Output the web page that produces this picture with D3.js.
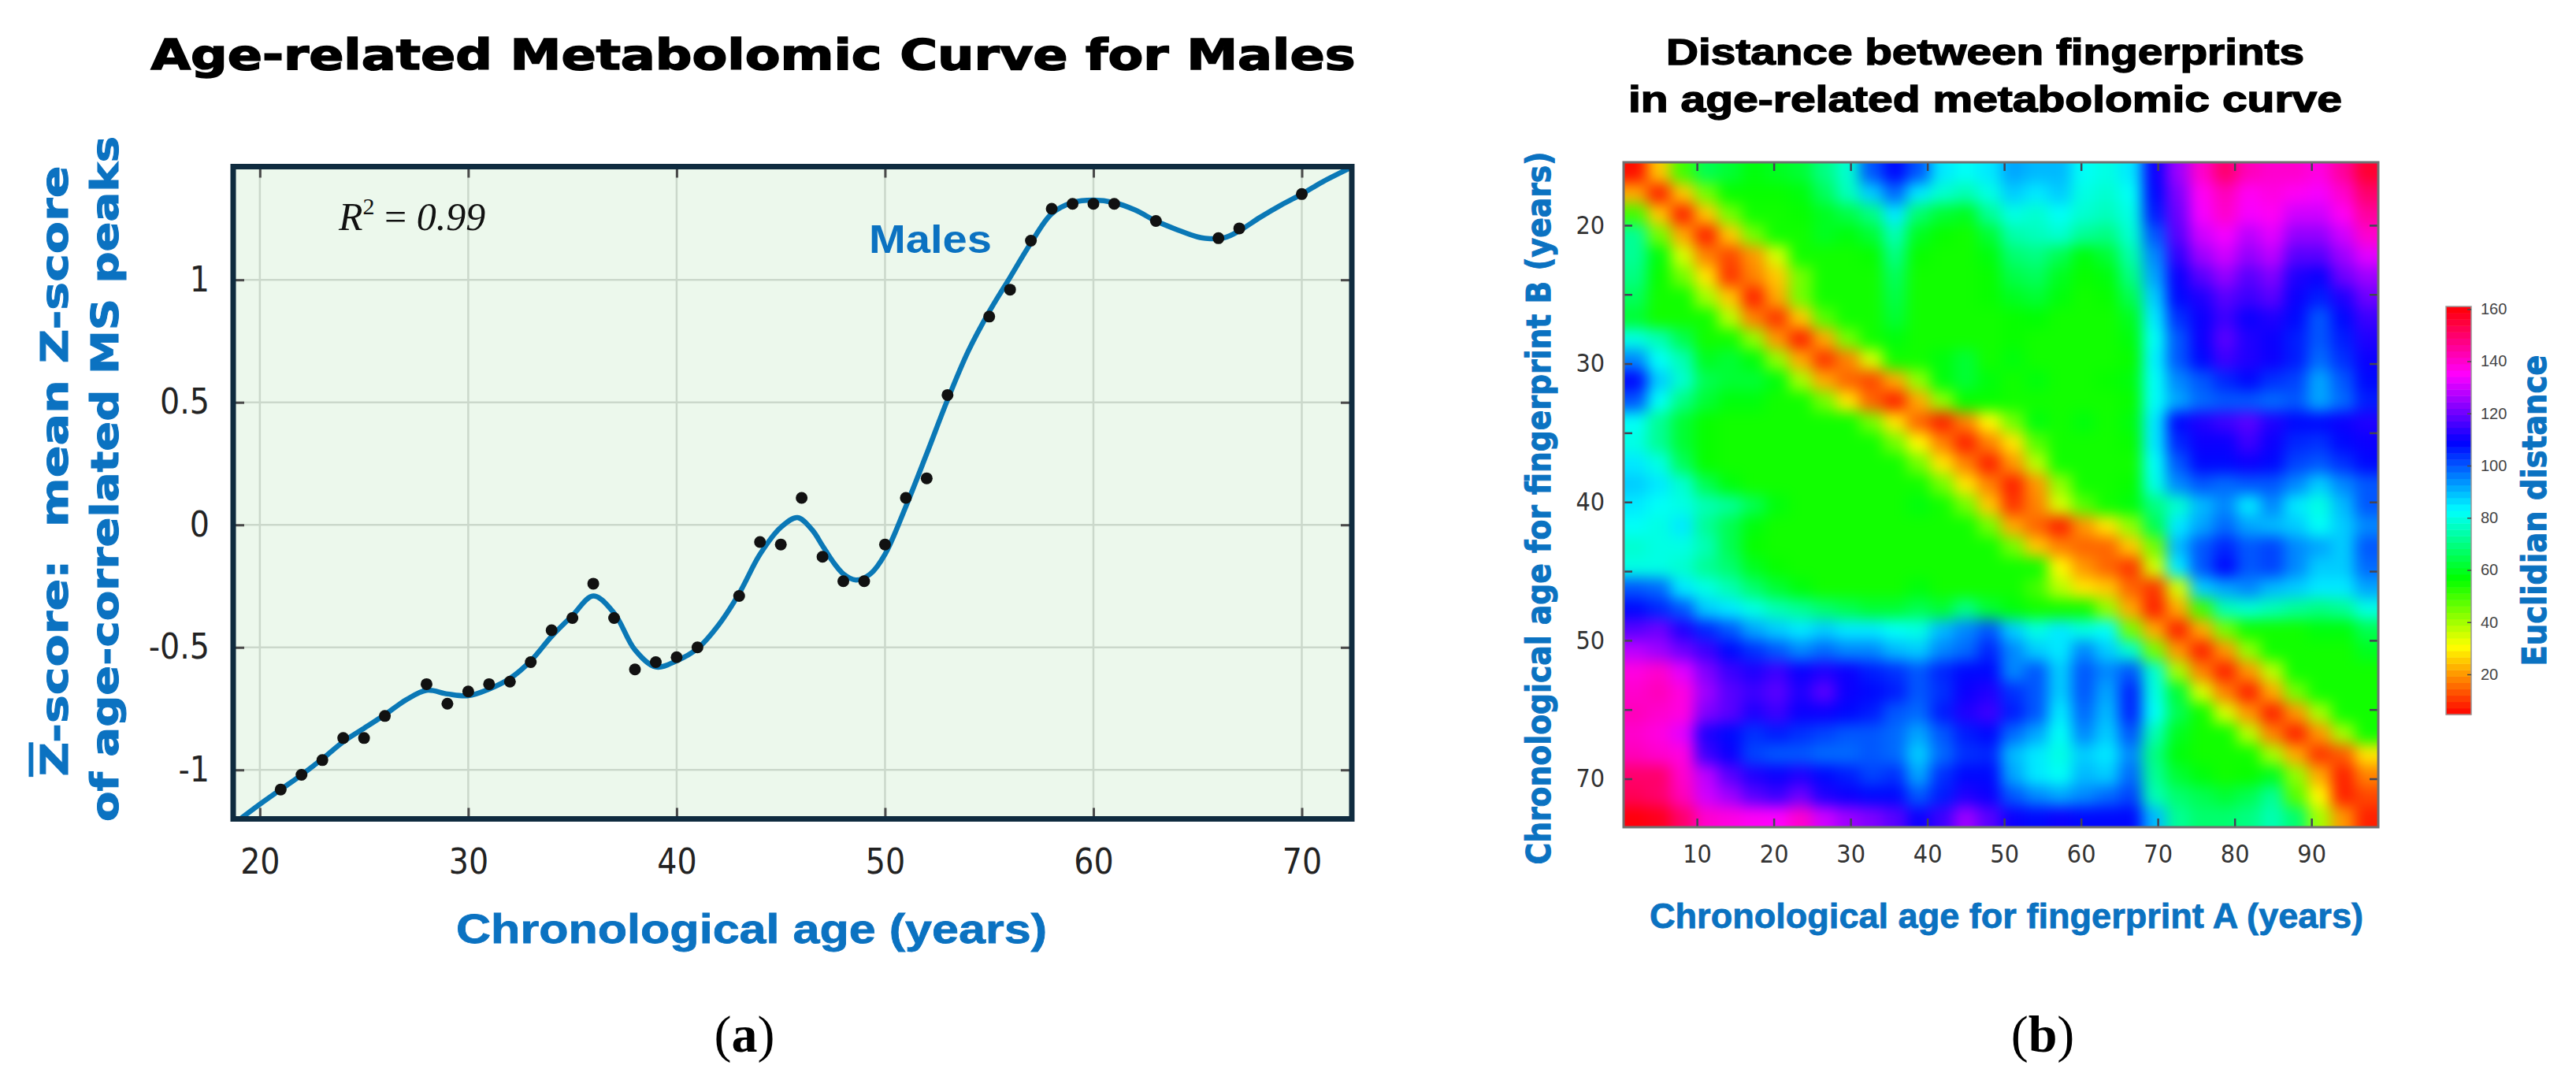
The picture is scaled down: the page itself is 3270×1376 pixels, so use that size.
<!DOCTYPE html>
<html>
<head>
<meta charset="utf-8">
<script src="https://cdn.jsdelivr.net/npm/d3@7"></script>
<style>
  body { margin: 0; background: #fff; }
</style>
</head>
<body>
<script>
const width = 3270;
const height = 1376;

const blue = "#0b72c1";
const sans = "'Liberation Sans', Arial, sans-serif";
const narrow = "'Liberation Sans Narrow', 'DejaVu Sans Condensed', 'Liberation Sans', sans-serif";
const heavy = "'DejaVu Sans', Roboto, sans-serif";
const serif = "'Liberation Serif', 'DejaVu Serif', serif";

// panel (a): measured points
const ages = [21, 22, 23, 24, 25, 26, 28, 29, 30, 31, 32, 33, 34, 35, 36, 37, 38, 39, 40, 41,
  43, 44, 45, 46, 47, 48, 49, 50, 51, 52, 53, 55, 56, 57, 58, 59, 60, 61, 63, 66, 67, 70];
const zMean = [-1.08, -1.02, -0.96, -0.87, -0.87, -0.78, -0.65, -0.73, -0.68, -0.65, -0.64, -0.56,
  -0.43, -0.38, -0.24, -0.38, -0.59, -0.56, -0.54, -0.50, -0.29, -0.07, -0.08, 0.11, -0.13, -0.23,
  -0.23, -0.08, 0.11, 0.19, 0.53, 0.85, 0.96, 1.16, 1.29, 1.31, 1.31, 1.31, 1.24, 1.17, 1.21, 1.35];

// panel (a): fitted curve
const fitAge = [19.06, 20, 21, 22, 23, 24, 25, 26, 27, 28, 29, 30, 31, 32, 33, 34, 35, 36, 37, 38,
  39, 40, 41, 42, 43, 44, 45, 45.8, 46.5, 47, 47.5, 48, 48.6, 49.3, 50, 51, 52, 53, 54, 55, 56, 57,
  58, 59, 60, 61, 62, 63, 64, 65, 65.6, 66.3, 67, 68, 69, 70, 71, 72.4];
const fitZ = [-1.2, -1.14, -1.08, -1.02, -0.955, -0.885, -0.83, -0.775, -0.715, -0.675, -0.69, -0.697,
  -0.67, -0.627, -0.555, -0.455, -0.37, -0.29, -0.36, -0.51, -0.58, -0.555, -0.505, -0.41, -0.28,
  -0.12, -0.01, 0.03, -0.02, -0.085, -0.15, -0.2, -0.225, -0.2, -0.12, 0.075, 0.29, 0.51, 0.71, 0.87,
  1.01, 1.15, 1.27, 1.315, 1.325, 1.315, 1.285, 1.24, 1.205, 1.175, 1.168, 1.172, 1.2, 1.255, 1.305,
  1.35, 1.4, 1.46];

const ageTicks = [20, 30, 40, 50, 60, 70];
const zTicks = [-1, -0.5, 0, 0.5, 1];

// panel (b): distance matrix, 32 x 32 blocks
const distance = [
  [6, 25, 50, 65, 62, 58, 60, 62, 70, 78, 100, 108, 100, 85, 82, 85, 92, 90, 90, 82, 80, 85, 110, 125, 140, 150, 142, 140, 140, 138, 145, 156],
  [22, 8, 25, 45, 56, 56, 56, 58, 66, 76, 88, 98, 85, 78, 75, 80, 88, 85, 88, 80, 78, 82, 108, 122, 136, 142, 136, 138, 136, 134, 140, 150],
  [50, 25, 8, 25, 45, 55, 55, 56, 60, 64, 70, 85, 68, 62, 60, 72, 80, 78, 82, 78, 76, 80, 106, 120, 134, 140, 134, 136, 130, 130, 136, 145],
  [72, 45, 22, 8, 25, 45, 55, 55, 60, 58, 62, 75, 60, 56, 55, 62, 74, 76, 78, 72, 70, 78, 100, 118, 130, 134, 128, 132, 124, 124, 130, 140],
  [72, 58, 35, 18, 12, 20, 35, 55, 55, 55, 56, 70, 56, 55, 55, 58, 68, 70, 65, 58, 62, 74, 95, 114, 125, 130, 124, 128, 118, 118, 125, 132],
  [70, 56, 45, 28, 10, 18, 25, 45, 55, 55, 55, 66, 55, 55, 55, 56, 64, 66, 60, 56, 58, 70, 92, 110, 118, 124, 118, 122, 112, 110, 120, 125],
  [66, 55, 55, 40, 25, 8, 22, 45, 55, 55, 55, 64, 55, 55, 55, 56, 60, 62, 58, 55, 56, 65, 88, 108, 112, 118, 115, 118, 110, 106, 112, 120],
  [62, 55, 55, 55, 38, 18, 10, 25, 48, 55, 55, 62, 55, 55, 55, 55, 56, 57, 55, 55, 55, 60, 85, 104, 110, 115, 110, 112, 108, 100, 108, 115],
  [80, 75, 65, 55, 55, 42, 20, 8, 22, 45, 55, 58, 55, 55, 55, 55, 56, 55, 55, 55, 55, 58, 82, 100, 110, 118, 112, 110, 106, 100, 106, 112],
  [95, 82, 75, 60, 62, 58, 42, 22, 10, 18, 35, 55, 55, 58, 62, 55, 58, 55, 55, 55, 55, 56, 84, 100, 108, 115, 112, 110, 106, 98, 104, 110],
  [108, 88, 78, 65, 62, 62, 58, 40, 22, 15, 12, 22, 42, 58, 62, 58, 55, 58, 55, 55, 56, 58, 82, 95, 100, 105, 108, 104, 102, 92, 100, 108],
  [100, 82, 70, 62, 58, 58, 55, 55, 45, 28, 15, 8, 22, 42, 56, 56, 55, 55, 55, 55, 55, 56, 82, 92, 98, 100, 100, 98, 100, 92, 98, 106],
  [82, 72, 62, 56, 55, 55, 55, 55, 55, 55, 45, 28, 15, 8, 18, 30, 45, 58, 55, 58, 55, 58, 85, 108, 112, 115, 118, 112, 108, 108, 110, 112],
  [80, 72, 62, 56, 55, 55, 55, 55, 55, 55, 55, 45, 30, 18, 8, 18, 28, 48, 55, 55, 55, 56, 85, 105, 110, 110, 115, 110, 105, 104, 108, 110],
  [85, 80, 66, 56, 55, 55, 55, 55, 55, 55, 55, 55, 45, 28, 18, 8, 20, 38, 55, 55, 55, 55, 82, 100, 108, 108, 110, 108, 102, 100, 104, 108],
  [88, 85, 78, 65, 58, 55, 55, 55, 55, 55, 55, 55, 55, 45, 28, 18, 8, 20, 42, 55, 55, 56, 80, 95, 100, 98, 100, 100, 95, 88, 95, 100],
  [85, 82, 80, 75, 72, 65, 58, 55, 55, 55, 55, 55, 58, 55, 45, 25, 10, 18, 35, 48, 55, 58, 70, 78, 90, 95, 85, 95, 85, 80, 90, 100],
  [82, 80, 85, 72, 65, 58, 55, 55, 55, 55, 55, 55, 55, 55, 55, 45, 22, 15, 8, 20, 28, 42, 65, 85, 92, 98, 92, 90, 88, 82, 88, 95],
  [78, 80, 80, 75, 65, 56, 55, 55, 55, 55, 55, 55, 55, 55, 55, 55, 45, 25, 18, 15, 15, 25, 45, 90, 100, 105, 100, 102, 95, 92, 88, 100],
  [80, 80, 78, 72, 68, 60, 56, 55, 55, 55, 55, 55, 55, 55, 55, 55, 55, 55, 30, 20, 15, 10, 35, 85, 100, 108, 100, 102, 95, 88, 88, 98],
  [100, 98, 85, 80, 75, 68, 62, 58, 55, 55, 55, 55, 58, 55, 55, 55, 55, 50, 38, 28, 25, 15, 10, 35, 88, 92, 95, 90, 88, 85, 85, 92],
  [108, 105, 100, 88, 85, 80, 75, 72, 68, 65, 62, 62, 65, 62, 70, 62, 58, 55, 55, 55, 42, 22, 8, 22, 50, 75, 78, 75, 72, 70, 72, 80],
  [118, 120, 112, 105, 100, 92, 88, 85, 88, 85, 85, 82, 80, 90, 95, 100, 88, 80, 85, 80, 82, 45, 22, 8, 22, 45, 55, 55, 55, 58, 58, 65],
  [128, 125, 120, 115, 108, 104, 100, 95, 98, 95, 95, 90, 88, 95, 98, 105, 95, 88, 85, 95, 88, 78, 45, 20, 8, 20, 42, 55, 55, 55, 55, 60],
  [138, 140, 132, 122, 115, 112, 115, 110, 112, 110, 106, 104, 100, 105, 108, 108, 95, 100, 88, 100, 95, 100, 78, 40, 18, 8, 20, 38, 55, 55, 55, 55],
  [140, 142, 138, 125, 118, 115, 118, 112, 118, 110, 108, 106, 100, 104, 110, 112, 104, 100, 88, 100, 92, 105, 80, 62, 35, 18, 8, 22, 45, 55, 55, 55],
  [142, 140, 138, 122, 118, 112, 115, 110, 110, 108, 106, 100, 98, 106, 112, 115, 106, 100, 85, 98, 90, 105, 82, 65, 55, 35, 20, 8, 20, 40, 55, 55],
  [140, 138, 132, 112, 108, 104, 106, 104, 102, 100, 100, 98, 92, 100, 106, 108, 98, 92, 82, 95, 88, 100, 75, 60, 55, 55, 38, 18, 8, 20, 40, 55],
  [142, 140, 138, 115, 110, 102, 100, 100, 98, 98, 100, 98, 88, 98, 104, 105, 90, 85, 80, 88, 85, 95, 70, 58, 55, 55, 55, 40, 22, 10, 14, 28],
  [150, 150, 140, 128, 118, 112, 110, 112, 108, 106, 102, 104, 92, 104, 108, 108, 92, 85, 82, 90, 88, 98, 72, 62, 58, 55, 56, 60, 42, 22, 8, 18],
  [152, 150, 142, 130, 125, 118, 115, 120, 112, 110, 108, 108, 100, 106, 112, 110, 100, 95, 92, 95, 98, 102, 75, 68, 65, 62, 65, 72, 48, 30, 8, 12],
  [160, 158, 150, 140, 138, 136, 135, 140, 130, 125, 122, 118, 110, 115, 125, 118, 110, 108, 110, 108, 108, 108, 90, 72, 68, 68, 70, 75, 68, 40, 20, 8]
];

const idxTicks = [10, 20, 30, 40, 50, 60, 70, 80, 90];
const idxTickLabelsB = ["20", "", "30", "", "40", "", "50", "", "70"];
const cbTicks = [20, 40, 60, 80, 100, 120, 140, 160];
const cbDomain = [4.6, 161];


const svg = d3.select("body")
    .append("svg")
    .attr("width", width)
    .attr("height", height)
    .attr("font-family", sans);

const defs = svg.append("defs");

//==================== panel (a) ====================
const x = d3.scaleLinear()
    .domain([18.72, 72.4])
    .range([296, 1716]);

const y = d3.scaleLinear()
    .domain([-1.2, 1.462])
    .range([1039.5, 211.5]);

const [ax0, ax1] = x.range();
const [ay0, ay1] = [y.range()[1], y.range()[0]];

defs.append("clipPath").attr("id", "clipA")
  .append("rect")
    .attr("x", ax0).attr("y", ay0)
    .attr("width", ax1 - ax0).attr("height", ay1 - ay0);

const a = svg.append("g");

//plot background
a.append("rect")
    .attr("x", ax0).attr("y", ay0)
    .attr("width", ax1 - ax0).attr("height", ay1 - ay0)
    .attr("fill", "#ecf8ec");

//grid
a.selectAll(".vgrid").data(ageTicks).join("line")
    .attr("x1", d => x(d)).attr("x2", d => x(d))
    .attr("y1", ay0).attr("y2", ay1)
    .attr("stroke", "#cbd8cb").attr("stroke-width", 2.5);

a.selectAll(".hgrid").data(zTicks).join("line")
    .attr("x1", ax0).attr("x2", ax1)
    .attr("y1", d => y(d)).attr("y2", d => y(d))
    .attr("stroke", "#cbd8cb").attr("stroke-width", 2.5);

function styleAxis(g, size, font, color) {
  g.select(".domain").remove();
  g.selectAll(".tick line").attr("stroke", "#4a4a4a").attr("stroke-width", 3);
  g.selectAll(".tick text")
      .attr("font-size", size)
      .attr("font-family", font)
      .attr("fill", color);
}

a.append("g")
    .attr("transform", `translate(0,${ay1})`)
    .call(d3.axisBottom(x).tickValues(ageTicks).tickSize(-14).tickPadding(38))
    .call(g => styleAxis(g, 44, narrow, "#222"));

a.append("g")
    .attr("transform", `translate(0,${ay0})`)
    .call(d3.axisTop(x).tickValues(ageTicks).tickSize(-14).tickFormat(""))
    .call(g => styleAxis(g, 44, narrow, "#222"));

a.append("g")
    .attr("transform", `translate(${ax0},0)`)
    .call(d3.axisLeft(y).tickValues(zTicks).tickSize(-14).tickPadding(30).tickFormat(d => String(d)))
    .call(g => styleAxis(g, 44, narrow, "#222"));

a.append("g")
    .attr("transform", `translate(${ax1},0)`)
    .call(d3.axisRight(y).tickValues(zTicks).tickSize(-14).tickFormat(""))
    .call(g => styleAxis(g, 44, narrow, "#222"));

//fitted curve
const fit = fitAge.map((v, i) => [v, fitZ[i]]);
a.append("path")
    .datum(fit)
    .attr("clip-path", "url(#clipA)")
    .attr("d", d3.line().x(d => x(d[0])).y(d => y(d[1])).curve(d3.curveCatmullRom.alpha(0.5)))
    .attr("fill", "none")
    .attr("stroke", "#0a78b6")
    .attr("stroke-width", 6.5);

//points
a.selectAll(".pt")
    .data(ages.map((v, i) => [v, zMean[i]]))
    .join("circle")
    .attr("cx", d => x(d[0]))
    .attr("cy", d => y(d[1]))
    .attr("r", 7.5)
    .attr("fill", "#111");

//frame
a.append("rect")
    .attr("x", ax0).attr("y", ay0)
    .attr("width", ax1 - ax0).attr("height", ay1 - ay0)
    .attr("fill", "none")
    .attr("stroke", "#0f2b3f")
    .attr("stroke-width", 7);

//R^2 label
const r2 = a.append("text")
    .attr("x", 430).attr("y", 292)
    .attr("font-family", serif)
    .attr("font-size", 50)
    .attr("fill", "#111");
r2.append("tspan").attr("font-style", "italic").text("R");
r2.append("tspan").attr("font-size", 30).attr("dy", -20).text("2");
r2.append("tspan").attr("dy", 20).text(" = ");
r2.append("tspan").attr("font-style", "italic").text("0.99");

//series label
a.append("text")
    .attr("x", 1181).attr("y", 321)
    .attr("text-anchor", "middle")
    .attr("font-size", 50)
    .attr("font-weight", "bold")
    .attr("fill", blue)
    .attr("textLength", 156)
    .attr("lengthAdjust", "spacingAndGlyphs")
    .text("Males");

//title
svg.append("text")
    .attr("x", 956).attr("y", 88)
    .attr("text-anchor", "middle")
    .attr("font-family", heavy)
    .attr("font-weight", "bold")
    .attr("font-size", 54)
    .attr("fill", "#000")
    .attr("stroke", "#000")
    .attr("stroke-width", 1.6)
    .attr("textLength", 1529)
    .attr("lengthAdjust", "spacingAndGlyphs")
    .text("Age-related Metabolomic Curve for Males");

//x label
svg.append("text")
    .attr("x", 954).attr("y", 1197)
    .attr("text-anchor", "middle")
    .attr("font-size", 52)
    .attr("font-weight", "bold")
    .attr("fill", blue)
    .attr("stroke", blue)
    .attr("stroke-width", 0.8)
    .attr("textLength", 750)
    .attr("lengthAdjust", "spacingAndGlyphs")
    .text("Chronological age (years)");

//y label, two lines
const yl1 = svg.append("text")
    .attr("transform", "translate(86,598) rotate(-90)")
    .attr("text-anchor", "middle")
    .attr("font-family", heavy)
    .attr("font-weight", "bold")
    .attr("font-size", 48)
    .attr("fill", blue)
    .attr("stroke", blue)
    .attr("stroke-width", 1)
    .attr("textLength", 775)
    .attr("lengthAdjust", "spacingAndGlyphs");
yl1.append("tspan").attr("text-decoration", "overline").text("Z");
yl1.append("tspan").text("-score:\u00a0\u00a0mean Z-score");

svg.append("text")
    .attr("transform", "translate(150,608) rotate(-90)")
    .attr("text-anchor", "middle")
    .attr("font-family", heavy)
    .attr("font-weight", "bold")
    .attr("font-size", 48)
    .attr("fill", blue)
    .attr("stroke", blue)
    .attr("stroke-width", 1)
    .attr("textLength", 870)
    .attr("lengthAdjust", "spacingAndGlyphs")
    .text("of age-correlated MS peaks");

//==================== panel (b) ====================
const hx = d3.scaleLinear().domain([0.45, 98.7]).range([2061, 3019]);
const hy = d3.scaleLinear().domain([0.9, 97]).range([206, 1050]);
const [bx0, bx1] = hx.range();
const [by0, by1] = hy.range();

const n = distance.length;
const col = d3.scaleBand().domain(d3.range(n)).range([bx0, bx1]);
const row = d3.scaleBand().domain(d3.range(n)).range([by0, by1]);
const color = d3.scaleSequential(cbDomain, t => d3.hsl(t * 360, 1, 0.5).formatHex());

defs.append("clipPath").attr("id", "clipB")
  .append("rect")
    .attr("x", bx0).attr("y", by0)
    .attr("width", bx1 - bx0).attr("height", by1 - by0);

const smooth = defs.append("filter")
    .attr("id", "smooth")
    .attr("filterUnits", "userSpaceOnUse")
    .attr("x", bx0 - 80).attr("y", by0 - 80)
    .attr("width", bx1 - bx0 + 160).attr("height", by1 - by0 + 160)
    .attr("color-interpolation-filters", "sRGB");
smooth.append("feGaussianBlur").attr("stdDeviation", 9);

const cells = distance.flatMap((r, i) => r.map((v, j) => ({ i, j, v })));
const pad = 50;

svg.append("g")
    .attr("clip-path", "url(#clipB)")
  .append("g")
    .attr("filter", "url(#smooth)")
  .selectAll("rect")
  .data(cells)
  .join("rect")
    .attr("x", d => col(d.j) - (d.j === 0 ? pad : 0))
    .attr("y", d => row(d.i) - (d.i === 0 ? pad : 0))
    .attr("width", d => col.bandwidth() + 0.8 + (d.j === 0 || d.j === n - 1 ? pad : 0))
    .attr("height", d => row.bandwidth() + 0.8 + (d.i === 0 || d.i === n - 1 ? pad : 0))
    .attr("fill", d => color(d.v));

const b = svg.append("g");

b.append("g")
    .attr("transform", `translate(0,${by1})`)
    .call(d3.axisBottom(hx).tickValues(idxTicks).tickSize(-11).tickPadding(22))
    .call(g => styleAxis(g, 32, narrow, "#333"));

b.append("g")
    .attr("transform", `translate(0,${by0})`)
    .call(d3.axisTop(hx).tickValues(idxTicks).tickSize(-11).tickFormat(""))
    .call(g => styleAxis(g, 32, narrow, "#333"));

b.append("g")
    .attr("transform", `translate(${bx0},0)`)
    .call(d3.axisLeft(hy).tickValues(idxTicks).tickSize(-11).tickPadding(24)
      .tickFormat((d, i) => idxTickLabelsB[i]))
    .call(g => styleAxis(g, 32, narrow, "#333"));

b.append("g")
    .attr("transform", `translate(${bx1},0)`)
    .call(d3.axisRight(hy).tickValues(idxTicks).tickSize(-11).tickFormat(""))
    .call(g => styleAxis(g, 32, narrow, "#333"));

b.selectAll(".tick line").attr("stroke-width", 2.5).attr("stroke", "#445");

b.append("rect")
    .attr("x", bx0).attr("y", by0)
    .attr("width", bx1 - bx0).attr("height", by1 - by0)
    .attr("fill", "none")
    .attr("stroke", "#707070")
    .attr("stroke-width", 3);

//titles (b)
svg.append("text")
    .attr("x", 2520).attr("y", 82)
    .attr("text-anchor", "middle")
    .attr("font-size", 46)
    .attr("font-weight", "bold")
    .attr("stroke", "#000")
    .attr("stroke-width", 1.4)
    .attr("textLength", 810)
    .attr("lengthAdjust", "spacingAndGlyphs")
    .text("Distance between fingerprints");

svg.append("text")
    .attr("x", 2520).attr("y", 142)
    .attr("text-anchor", "middle")
    .attr("font-size", 46)
    .attr("font-weight", "bold")
    .attr("stroke", "#000")
    .attr("stroke-width", 1.4)
    .attr("textLength", 906)
    .attr("lengthAdjust", "spacingAndGlyphs")
    .text("in age-related metabolomic curve");

svg.append("text")
    .attr("x", 2547).attr("y", 1178)
    .attr("text-anchor", "middle")
    .attr("font-size", 44)
    .attr("font-weight", "bold")
    .attr("fill", blue)
    .attr("stroke", blue)
    .attr("stroke-width", 0.8)
    .attr("textLength", 906)
    .attr("lengthAdjust", "spacingAndGlyphs")
    .text("Chronological age for fingerprint A (years)");

svg.append("text")
    .attr("transform", "translate(1968,645) rotate(-90)")
    .attr("text-anchor", "middle")
    .attr("font-family", heavy)
    .attr("font-weight", "bold")
    .attr("font-size", 42)
    .attr("fill", blue)
    .attr("stroke", blue)
    .attr("stroke-width", 1)
    .attr("textLength", 905)
    .attr("lengthAdjust", "spacingAndGlyphs")
    .text("Chronological age for fingerprint B (years)");

//colorbar
const cb = d3.scaleLinear().domain(cbDomain).range([907, 389]);
const cbX = 3105, cbW = 32;
const nSteps = 64;
const stepSize = (cbDomain[1] - cbDomain[0]) / nSteps;
const steps = d3.range(nSteps).map(k => cbDomain[0] + k * stepSize);

b.selectAll(".cbstep").data(steps).join("rect")
    .attr("x", cbX)
    .attr("y", d => cb(d + stepSize))
    .attr("width", cbW)
    .attr("height", d => cb(d) - cb(d + stepSize) + 0.5)
    .attr("fill", d => color(d + stepSize / 2));

b.append("rect")
    .attr("x", cbX).attr("y", cb.range()[1])
    .attr("width", cbW).attr("height", cb.range()[0] - cb.range()[1])
    .attr("fill", "none")
    .attr("stroke", "#9a9a9a")
    .attr("stroke-width", 1.5);

b.append("g")
    .attr("transform", `translate(${cbX + cbW},0)`)
    .call(d3.axisRight(cb).tickValues(cbTicks).tickSize(-5).tickPadding(12))
    .call(g => styleAxis(g, 20, sans, "#444"))
    .call(g => g.selectAll(".tick line").attr("stroke-width", 1.5));

svg.append("text")
    .attr("transform", "translate(3232,648) rotate(-90)")
    .attr("text-anchor", "middle")
    .attr("font-family", heavy)
    .attr("font-weight", "bold")
    .attr("font-size", 42)
    .attr("fill", blue)
    .attr("stroke", blue)
    .attr("stroke-width", 1)
    .attr("textLength", 395)
    .attr("lengthAdjust", "spacingAndGlyphs")
    .text("Euclidian distance");

//panel letters
function panelLetter(cx, letter) {
  const t = svg.append("text")
      .attr("x", cx).attr("y", 1335)
      .attr("text-anchor", "middle")
      .attr("font-family", serif)
      .attr("font-size", 66)
      .attr("fill", "#000");
  t.append("tspan").text("(");
  t.append("tspan").attr("font-weight", "bold").text(letter);
  t.append("tspan").text(")");
}
panelLetter(945, "a");
panelLetter(2593, "b");
</script>
</body>
</html>
